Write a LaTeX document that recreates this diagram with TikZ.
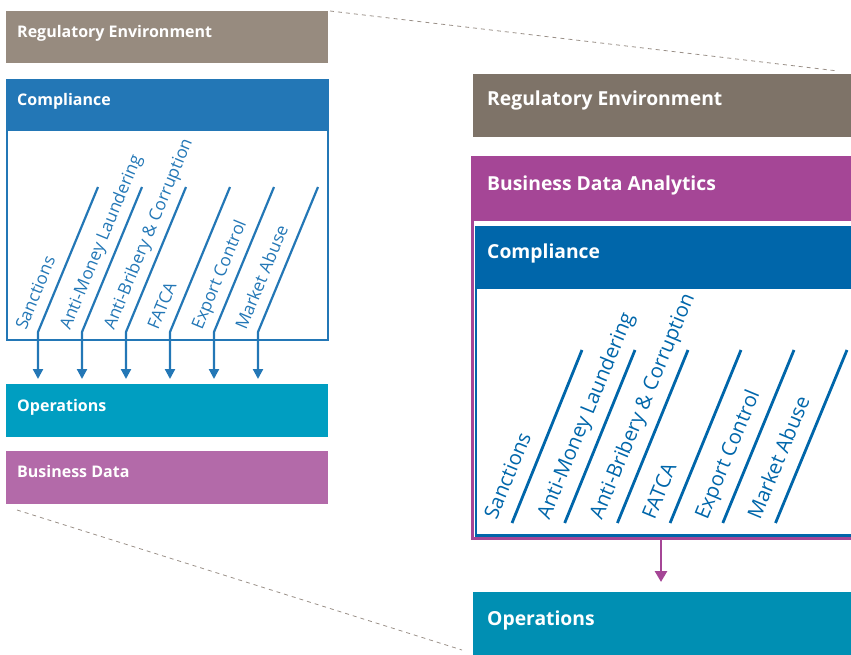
\documentclass[tikz,border=0pt]{standalone}
\usepackage{fontspec}
\setmainfont{Open Sans}
\usetikzlibrary{arrows.meta,calc}

\definecolor{regL}{HTML}{978B7F}
\definecolor{regR}{HTML}{7E7368}
\definecolor{blueL}{HTML}{2377B6}
\definecolor{blueR}{HTML}{0066AA}
\definecolor{opsL}{HTML}{009EC1}
\definecolor{opsR}{HTML}{008FB3}
\definecolor{bdL}{HTML}{B36AA9}
\definecolor{bdR}{HTML}{A54696}
\definecolor{zoomline}{HTML}{9A9088}

\begin{document}
\begin{tikzpicture}[x=1pt,y=-1pt,
  box/.style={rectangle, draw=none, inner sep=0pt, outer sep=0pt, anchor=north west},
  frame/.style={rectangle, fill=none, inner sep=0pt, outer sep=0pt, anchor=north west},
  ttlL/.style={anchor=base west, inner sep=0pt, text=white, font=\fontsize{16}{19}\selectfont\bfseries},
  ttlR/.style={anchor=base west, inner sep=0pt, text=white, font=\fontsize{19.3}{23}\selectfont\bfseries},
  lblL/.style={anchor=base west, inner sep=0pt, rotate=67.5, text=blueL, font=\fontsize{17.2}{20}\selectfont},
  lblR/.style={anchor=base west, inner sep=0pt, rotate=67.5, text=blueR, font=\fontsize{20.3}{24}\selectfont},
  flowL/.style={draw=blueL, line width=2.2pt, -{Triangle[width=10pt,length=10pt]}, shorten >=5pt},
  slantR/.style={draw=blueR, line width=2.8pt},
  flowM/.style={draw=bdR, line width=2.8pt, -{Triangle[width=12pt,length=11pt]}, shorten >=10pt},
  zoomdash/.style={draw=zoomline, line width=0.8pt, dash pattern=on 4pt off 4pt}
]
\useasboundingbox (0,0) rectangle (851,655);
\clip (0,0) rectangle (851,655);

% ---------- overview column ----------
\node[box, fill=regL, minimum width=322pt, minimum height=52pt] (reg1) at (6,11) {};
\node[ttlL] (reg1t) at ($(reg1.north west)+(11,27)$) {Regulatory Environment};

\node[box, fill=blueL, minimum width=323pt, minimum height=52pt] (comp1h) at (6,79) {};
\node[frame, draw=blueL, line width=2pt, minimum width=321pt, minimum height=259.5pt] (comp1) at (7,80) {};
\node[ttlL] (comp1t) at ($(comp1h.north west)+(11,27)$) {Compliance};

\node[box, fill=opsL, minimum width=322pt, minimum height=53pt] (ops1) at (6,384) {};
\node[ttlL] (ops1t) at ($(ops1.north west)+(11,27)$) {Operations};

\node[box, fill=bdL, minimum width=322pt, minimum height=53pt] (bd1) at (6,451) {};
\node[ttlL] (bd1t) at ($(bd1.north west)+(11,26)$) {Business Data};

\foreach \t [count=\i] in {Sanctions, Anti-Money Laundering, Anti-Bribery \& Corruption, FATCA, Export Control, Market Abuse} {
  \coordinate (lb\i) at ({38+44*(\i-1)},332);
  \coordinate (lt\i) at ({98+44*(\i-1)},187);
  \draw[flowL] (lt\i) -- (lb\i) -- (lb\i |- ops1.north);
  \node[lblL] (ll\i) at ($(lb\i)+(-12,-1)$) {\t};
}

% ---------- detail column ----------
\node[box, fill=regR, minimum width=400pt, minimum height=63pt] (reg2) at (473,74) {};
\node[ttlR] (reg2t) at ($(reg2.north west)+(14,32)$) {Regulatory Environment};

\node[box, fill=bdR, minimum width=420pt, minimum height=65pt] (bdah) at (471.3,155.8) {};
\node[frame, draw=bdR, line width=2.5pt, minimum width=420pt, minimum height=381.7pt] (bda) at (472.5,157) {};
\node[ttlR] (bdat) at ($(bdah.north west)+(15.7,35)$) {Business Data Analytics};

\node[box, fill=blueR, minimum width=420pt, minimum height=63pt] (comp2h) at (474.8,226) {};
\node[frame, draw=blueR, line width=2.5pt, minimum width=420pt, minimum height=308pt] (comp2) at (476,227.3) {};
\node[ttlR] (comp2t) at ($(comp2h.north west)+(12.2,32)$) {Compliance};

\node[box, fill=opsR, minimum width=400pt, minimum height=70pt] (ops2) at (473,592) {};
\node[ttlR] (ops2t) at ($(ops2.north west)+(14,33)$) {Operations};

\foreach \t [count=\i] in {Sanctions, Anti-Money Laundering, Anti-Bribery \& Corruption, FATCA, Export Control, Market Abuse} {
  \coordinate (rb\i) at ({512+52.7*(\i-1)},523);
  \coordinate (rt\i) at ({582+53*(\i-1)},350);
  \draw[slantR] (rb\i) -- (rt\i);
  \node[lblR] (rl\i) at ($(rb\i)+(-15.5,-2.3)$) {\t};
}

\coordinate (mtop) at (661,538.7);
\draw[flowM] (mtop) -- (mtop |- ops2.north);

% ---------- zoom guides ----------
\coordinate (z1a) at (330,11);
\coordinate (z1b) at (838,71);
\coordinate (z2a) at (17,510);
\coordinate (z2b) at (462,650);
\draw[zoomdash] (z1a) -- (z1b);
\draw[zoomdash] (z2a) -- (z2b);
\end{tikzpicture}
\end{document}
